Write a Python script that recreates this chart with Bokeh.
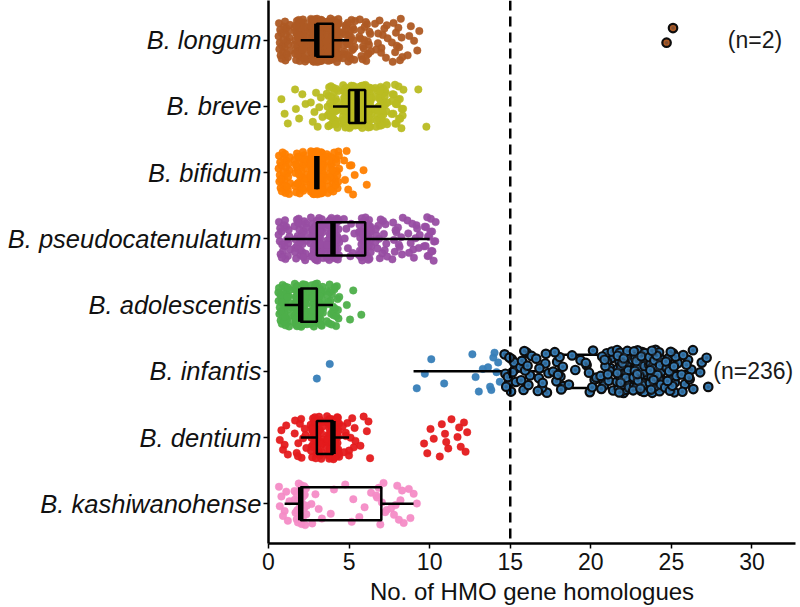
import numpy as np
from bokeh.plotting import figure
from bokeh.models import Range1d, FixedTicker, Span, Label, ColumnDataSource
from bokeh.embed import file_html
from bokeh.resources import INLINE

# ---------------- data ----------------
species = ["B. longum", "B. breve", "B. bifidum", "B. pseudocatenulatum",
           "B. adolescentis", "B. infantis", "B. dentium", "B. kashiwanohense"]
colors = ["#AE5A24", "#B9BC22", "#FF7F00", "#984EA3",
          "#4DAF4A", "#377EB8", "#E41A1C", "#F48CC6"]

# number of HMO gene homologues (integer) and number of genomes with that count
longum_values = [1, 2, 3, 4, 5, 6, 7, 8, 9, 25]
longum_counts = [25, 45, 120, 70, 30, 20, 12, 12, 6, 2]
breve_values = [1, 2, 3, 4, 5, 6, 7, 8, 9, 10]
breve_counts = [3, 5, 8, 30, 80, 70, 34, 20, 1, 1]
bifidum_values = [1, 2, 3, 4, 5, 6]
bifidum_counts = [28, 32, 150, 30, 8, 2]
pseudo_values = [1, 2, 3, 4, 5, 6, 7, 8, 9, 10]
pseudo_counts = [20, 30, 45, 50, 8, 40, 15, 12, 12, 18]
adolescentis_values = [1, 2, 3, 4, 5, 6]
adolescentis_counts = [35, 90, 50, 25, 3, 1]
infantis_values = [3, 4, 9, 10, 11, 13, 14, 15, 16, 17, 18, 19, 20, 21, 22, 23, 24, 25, 26, 27]
infantis_counts = [1, 1, 1, 2, 1, 4, 8, 12, 11, 10, 10, 4, 8, 16, 40, 40, 34, 18, 11, 4]
dentium_values = [1, 2, 3, 4, 5, 6, 10, 11, 12]
dentium_counts = [6, 12, 40, 60, 12, 5, 4, 6, 6]
kashi_values = [1, 2, 3, 4, 5, 6, 7, 8, 9]
kashi_counts = [8, 27, 5, 2, 3, 3, 8, 8, 4]

# box-plot statistics per species (same order as species)
box_q1 = [3, 5, 3, 3, 2, 18, 3, 2]
box_median = [3, 5.5, 3, 4, 2, 22, 4, 2]
box_q3 = [4, 6, 3, 6, 3, 24, 4, 7]
whisker_lo = [2, 4, 3, 1, 1, 9, 2, 1]
whisker_hi = [5, 7, 3, 10, 4, 27, 5, 9]

threshold = 15
note_species = ["B. longum", "B. infantis"]
note_text = ["(n=2)", "(n=236)"]

all_values = [longum_values, breve_values, bifidum_values, pseudo_values,
              adolescentis_values, infantis_values, dentium_values, kashi_values]
all_counts = [longum_counts, breve_counts, bifidum_counts, pseudo_counts,
              adolescentis_counts, infantis_counts, dentium_counts, kashi_counts]

# ---------------- layout helpers ----------------
def halton(i, b):
    f, r = 1.0, 0.0
    while i > 0:
        f /= b
        r += f * (i % b)
        i //= b
    return r

n_sp = len(species)
ypos = {s: n_sp - k for k, s in enumerate(species)}  # longum on top

reg = dict(x=[], y=[], c=[])
hi = dict(x=[], y=[], c=[])
for k, s in enumerate(species):
    vals = np.repeat(all_values[k], all_counts[k])
    i_reg, i_hi = 0, 0
    for v in vals:
        if v >= threshold:
            i_hi += 1
            i, d = i_hi + 3, hi
        else:
            i_reg += 1
            i, d = i_reg, reg
        d["x"].append(v + (halton(i, 2) - 0.5) * 0.8)
        d["y"].append(ypos[s] + (halton(i, 3) - 0.5) * 0.66)
        d["c"].append(colors[k])

p = figure(width=800, height=607, x_range=Range1d(0, 32.7), y_range=Range1d(0.4, 8.6),
           output_backend="svg", toolbar_location=None,
           min_border_left=268, min_border_right=5, min_border_top=0, min_border_bottom=60)
p.xgrid.visible = False
p.ygrid.visible = False
p.outline_line_color = None
p.background_fill_color = "white"
p.border_fill_color = "white"

p.scatter("x", "y", source=ColumnDataSource(reg), size=7.5, fill_color="c",
          line_color="c", line_width=0.5, fill_alpha=0.95, line_alpha=0.95)

ys = [ypos[s] for s in species]
hw = 0.25
box_src = ColumnDataSource(dict(
    q1=box_q1, q3=box_q3, med=box_median, lo=whisker_lo, hi=whisker_hi,
    y=ys, top=[y + hw for y in ys], bot=[y - hw for y in ys]))
p.segment(x0="lo", x1="q1", y0="y", y1="y", source=box_src, line_color="black", line_width=2.5)
p.segment(x0="q3", x1="hi", y0="y", y1="y", source=box_src, line_color="black", line_width=2.5)
p.quad(left="q1", right="q3", top="top", bottom="bot", source=box_src,
       fill_alpha=0, line_color="black", line_width=2.5)
p.segment(x0="med", x1="med", y0="bot", y1="top", source=box_src, line_color="black", line_width=5.5)

hi_src = ColumnDataSource(hi)
p.scatter("x", "y", source=hi_src, size=8.5, fill_color="c",
          line_color="#0d0d0d", line_width=2.2)
# darken the fill of the above-threshold points (black-outlined, greyish centre)
p.scatter("x", "y", source=hi_src, size=3.5, fill_color="#2b3b4d", fill_alpha=0.35,
          line_color=None)

p.add_layout(Span(location=threshold, dimension="height", line_color="black",
                  line_width=2.5, line_dash="10 6"))

note_x = [28.5, 27.6]
for s, t, xx in zip(note_species, note_text, note_x):
    p.add_layout(Label(x=xx, y=ypos[s], text=t, text_font="Liberation Sans",
                       text_font_size="23px", text_baseline="middle", text_color="#1a1a1a"))

# axes
p.xaxis.ticker = FixedTicker(ticks=[0, 5, 10, 15, 20, 25, 30])
p.yaxis.ticker = FixedTicker(ticks=ys)
p.yaxis.major_label_overrides = {ypos[s]: s for s in species}
for ax in (p.xaxis[0], p.yaxis[0]):
    ax.axis_line_width = 2.5
    ax.axis_line_color = "black"
    ax.major_tick_line_width = 1.5
    ax.major_tick_line_color = "black"
    ax.major_tick_out = 5
    ax.major_tick_in = 0
    ax.minor_tick_line_color = None
    ax.major_label_text_color = "#111111"
    ax.major_label_text_font = "Liberation Sans"
p.yaxis.major_label_text_font_size = "25.5px"
p.yaxis.major_label_text_font_style = "italic"
p.yaxis.major_label_standoff = 2
p.xaxis.major_label_text_font_size = "23px"
p.xaxis.major_label_standoff = 4
p.xaxis.axis_label = "No. of HMO gene homologues"
p.xaxis.axis_label_text_font = "Liberation Sans"
p.xaxis.axis_label_text_font_size = "24px"
p.xaxis.axis_label_text_font_style = "normal"
p.xaxis.axis_label_text_color = "#111111"
p.xaxis.axis_label_standoff = 5

open("out.html", "w").write(file_html(p, INLINE))
